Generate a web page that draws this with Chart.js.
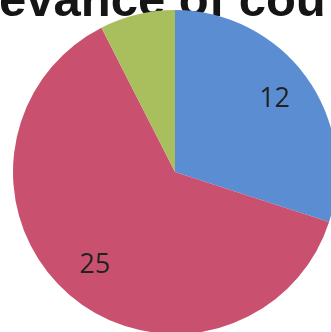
<!DOCTYPE html>
<html>
<head>
<meta charset="utf-8">
<script src="https://cdn.jsdelivr.net/npm/chart.js@4"></script>
<style>
    html, body { margin: 0; padding: 0; background: #fff; overflow: hidden; }
    #wrap { position: relative; width: 331px; height: 332px; overflow: hidden; }
    #pieChart { position: absolute; left: 0; top: 0; }
</style>
</head>
<body>
<div id="wrap">
    <canvas id="pieChart" width="420" height="420"></canvas>
</div>
<script>
    // Data
    const categories = ['A', 'B', 'C'];
    const values = [12, 25, 3];
    const showValue = [true, true, false];
    const sliceColors = ['#5b8dd3', '#c9506f', '#a9be5c'];
    const titleText = 'evance of cou';

    // Title (cropped at the top, like the scan)
    const titlePlugin = {
        id: 'croppedTitle',
        beforeDatasetsDraw(chart) {
            const ctx = chart.ctx;
            ctx.save();
            ctx.font = 'bold 49px "Liberation Sans", Arial, sans-serif';
            ctx.fillStyle = '#151515';
            ctx.textAlign = 'left';
            ctx.textBaseline = 'alphabetic';
            ctx.fillText(titleText, -1, 16);
            ctx.restore();
        }
    };

    // Value labels inside the slices
    const valueLabels = {
        id: 'valueLabels',
        afterDatasetsDraw(chart) {
            const ctx = chart.ctx;
            const meta = chart.getDatasetMeta(0);
            ctx.save();
            ctx.font = '27px "Open Sans", sans-serif';
            ctx.fillStyle = '#222';
            ctx.textAlign = 'center';
            ctx.textBaseline = 'middle';
            meta.data.forEach((arc, i) => {
                if (!showValue[i]) return;
                const p = arc.getProps(['x', 'y', 'startAngle', 'endAngle', 'outerRadius']);
                const mid = (p.startAngle + p.endAngle) / 2;
                const r = p.outerRadius * 0.76;
                ctx.fillText(String(values[i]), p.x + Math.cos(mid) * r, p.y + Math.sin(mid) * r);
            });
            ctx.restore();
        }
    };

    const ctx = document.getElementById('pieChart').getContext('2d');
    new Chart(ctx, {
        type: 'pie',
        data: {
            labels: categories,
            datasets: [{
                data: values,
                backgroundColor: sliceColors,
                borderWidth: 0
            }]
        },
        options: {
            responsive: false,
            animation: false,
            layout: { padding: { left: 13, right: 83, top: 10, bottom: 86 } },
            plugins: {
                legend: { display: false },
                tooltip: { enabled: false },
                title: { display: false }
            }
        },
        plugins: [titlePlugin, valueLabels]
    });
</script>
</body>
</html>
